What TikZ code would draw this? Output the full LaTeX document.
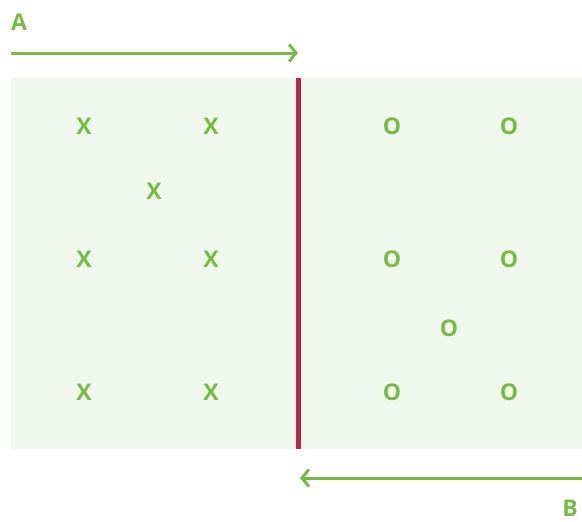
\documentclass[tikz,border=0pt]{standalone}
\usepackage{fontspec}
\setmainfont{Open Sans}
\usetikzlibrary{arrows.meta,positioning}
\definecolor{leaf}{HTML}{76BC43}
\definecolor{wine}{HTML}{B5284A}
\definecolor{pale}{HTML}{F0F7EC}

\begin{document}
\begin{tikzpicture}[x=1pt,y=-1pt]
\tikzstyle{every node}+=[inner sep=0pt]
\tikzstyle{sign}=[text=leaf,font=\fontsize{23}{27}\selectfont\bfseries]
\tikzstyle{flow}=[leaf,line width=3pt,-{Straight Barb[length=7pt,width=17pt,line width=3pt]}]
\useasboundingbox (0,0) rectangle (582,522);
\fill [pale] (11,78) rectangle (582,449);
\draw [wine,line width=5pt] (298,78) -- (298,449);
% labels
\node [sign] (A) at (19,22) {A};
\node [sign] (B) at (570,508) {B};
\coordinate (a0) at (11,53);
\coordinate (a1) at (298,53);
\coordinate (b0) at (582,478);
\coordinate (b1) at (300,478);
\draw [flow] (a0) -- (a1);
\draw [flow] (b0) -- (b1);
% crosses
\node [sign] (x1) at (84,126) {X};
\node [sign] (x2) at (211,126) {X};
\node [sign] (x3) at (154,191) {X};
\node [sign] (x4) at (84,259) {X};
\node [sign] (x5) at (211,259) {X};
\node [sign] (x6) at (84,392) {X};
\node [sign] (x7) at (211,392) {X};
% rings
\node [sign] (o1) at (392,126) {O};
\node [sign] (o2) at (509,126) {O};
\node [sign] (o3) at (392,259) {O};
\node [sign] (o4) at (509,259) {O};
\node [sign] (o5) at (449,328) {O};
\node [sign] (o6) at (392,392) {O};
\node [sign] (o7) at (509,392) {O};
\end{tikzpicture}
\end{document}
